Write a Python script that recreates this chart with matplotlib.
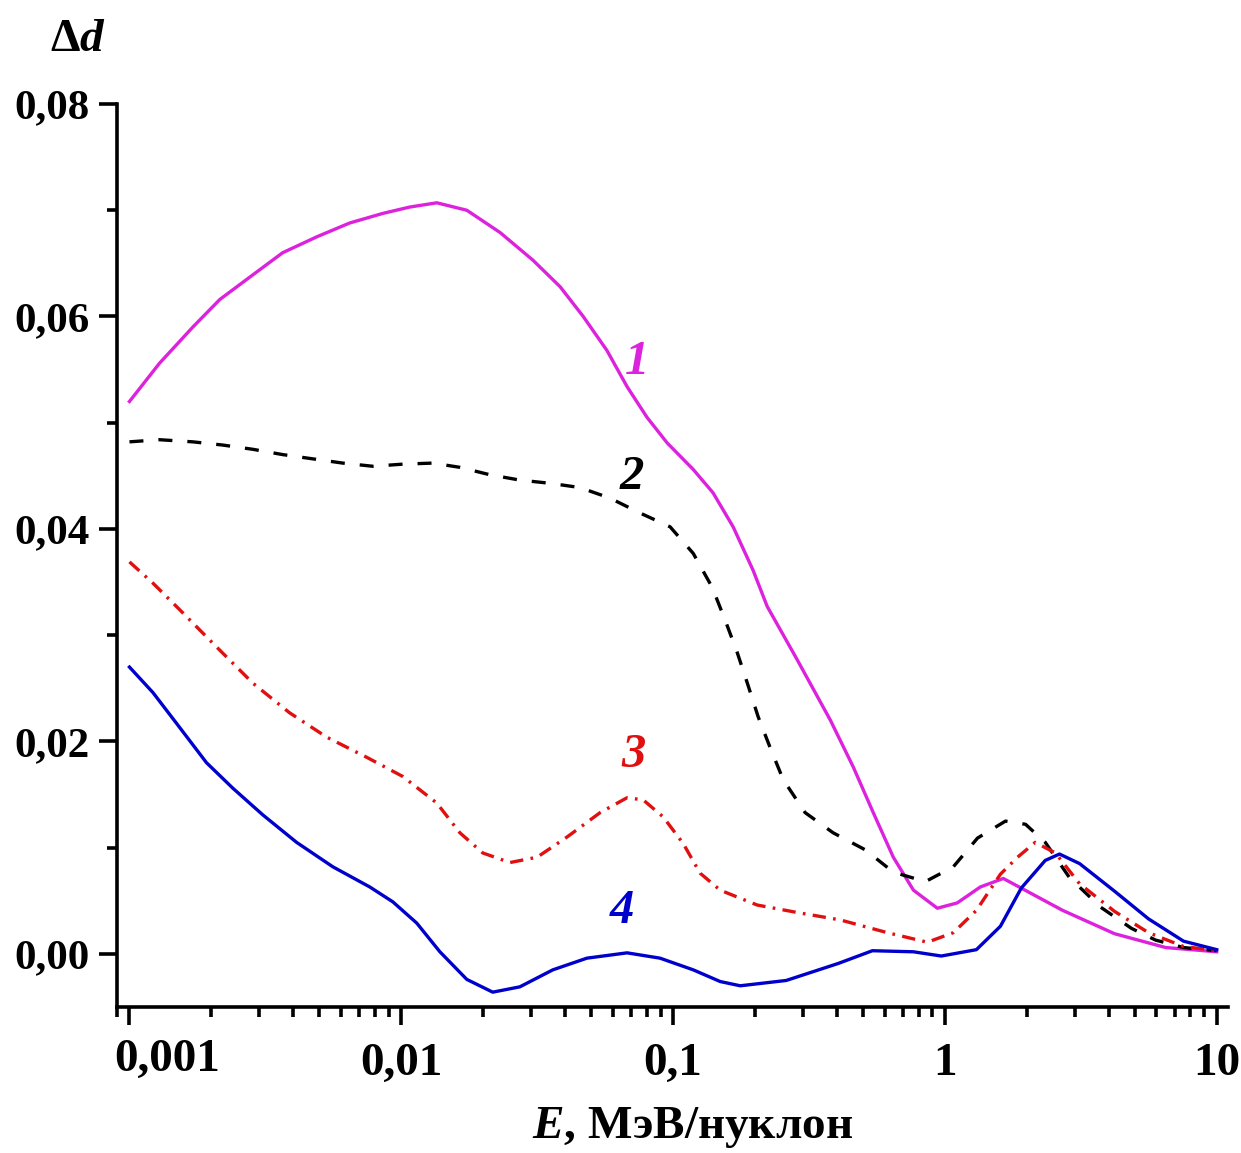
import matplotlib
matplotlib.use('Agg')
import matplotlib.pyplot as plt
from matplotlib.transforms import ScaledTranslation
from matplotlib.ticker import FixedLocator, FixedFormatter, LogLocator, NullFormatter, MultipleLocator

plt.rcParams['font.family'] = 'Liberation Serif'
plt.rcParams['font.weight'] = 'bold'
plt.rcParams['mathtext.fontset'] = 'custom'
plt.rcParams['mathtext.it'] = 'Liberation Serif:italic:bold'
plt.rcParams['mathtext.rm'] = 'Liberation Serif:bold'

# curve 1 (solid magenta)
e1 = [0.001, 0.00129, 0.00171, 0.00215, 0.00277, 0.00366, 0.00489, 0.00646, 0.00855, 0.01074,
      0.01351, 0.01742, 0.0231, 0.0305, 0.0384, 0.0467, 0.0571, 0.0677, 0.0802, 0.0951,
      0.1186, 0.1403, 0.1663, 0.197, 0.222, 0.286, 0.379, 0.460, 0.545, 0.646,
      0.766, 0.938, 1.11, 1.35, 1.64, 2.71, 4.21, 6.49, 10.0]
d1 = [0.0520, 0.0556, 0.0590, 0.0616, 0.0637, 0.0660, 0.0675, 0.0688, 0.0697, 0.0703,
      0.0707, 0.0700, 0.0679, 0.0653, 0.0628, 0.0600, 0.0568, 0.0534, 0.0505, 0.0481,
      0.0456, 0.0434, 0.0402, 0.0361, 0.0327, 0.0277, 0.0220, 0.0176, 0.0133, 0.0091,
      0.0060, 0.0043, 0.0048, 0.0063, 0.0071, 0.0041, 0.0019, 0.0006, 0.0002]

# curve 2 (black dashed)
e2 = [0.001, 0.00129, 0.00171, 0.00220, 0.00284, 0.00366, 0.00472, 0.00609, 0.00786, 0.01013,
      0.01306, 0.01643, 0.0212, 0.0273, 0.0352, 0.0454, 0.0586, 0.0756, 0.0975, 0.1186,
      0.1393, 0.1555, 0.172, 0.1875, 0.2057, 0.2277, 0.2542, 0.306, 0.388, 0.509,
      0.646, 0.847, 1.074, 1.318, 1.67, 1.98, 2.34, 2.87, 3.74, 4.86,
      5.96, 7.55, 10.0]
d2 = [0.0482, 0.0484, 0.0482, 0.0479, 0.0475, 0.0470, 0.0466, 0.0462, 0.0459, 0.0461,
      0.0462, 0.0458, 0.0451, 0.0446, 0.0443, 0.0439, 0.0429, 0.0415, 0.0402, 0.0377,
      0.0345, 0.0314, 0.0284, 0.0255, 0.0223, 0.0194, 0.0164, 0.0133, 0.0114, 0.0098,
      0.0077, 0.0068, 0.0082, 0.0109, 0.0125, 0.0122, 0.0105, 0.0072, 0.0044, 0.0024,
      0.0013, 0.0006, 0.0003]

# curve 3 (red dash-dot)
e3 = [0.001, 0.00122, 0.00153, 0.00209, 0.00284, 0.00388, 0.00532, 0.00747, 0.01013, 0.01351,
      0.01643, 0.01995, 0.0251, 0.0316, 0.0407, 0.0539, 0.0677, 0.0776, 0.0919, 0.1089,
      0.1257, 0.149, 0.204, 0.286, 0.412, 0.614, 0.862, 1.074, 1.306, 1.60,
      1.85, 2.15, 2.55, 3.13, 4.21, 5.61, 7.55, 10.0]
d3 = [0.0369, 0.0349, 0.0324, 0.0289, 0.0255, 0.0227, 0.0204, 0.0185, 0.0167, 0.0142,
      0.0114, 0.0095, 0.0086, 0.0091, 0.0110, 0.0133, 0.0147, 0.0145, 0.0129, 0.0104,
      0.0076, 0.0060, 0.0046, 0.0039, 0.0032, 0.0020, 0.0011, 0.0020, 0.0041, 0.0075,
      0.0091, 0.0105, 0.0095, 0.0066, 0.0040, 0.0020, 0.0007, 0.0003]

# curve 4 (solid blue)
e4 = [0.001, 0.00122, 0.00149, 0.00192, 0.00240, 0.00309, 0.00412, 0.00560, 0.00766, 0.00931,
      0.0114, 0.01387, 0.01742, 0.0217, 0.0273, 0.0361, 0.0482, 0.0677, 0.0895, 0.1186,
      0.149, 0.1766, 0.2607, 0.405, 0.541, 0.766, 0.970, 1.306, 1.60, 1.91,
      2.34, 2.64, 3.13, 4.21, 5.61, 7.55, 10.0]
d4 = [0.0270, 0.0246, 0.0217, 0.0180, 0.0156, 0.0131, 0.0105, 0.0082, 0.0063, 0.0049,
      0.0029, 0.0002, -0.0024, -0.0036, -0.0031, -0.0015, -0.0004, 0.0001, -0.0004, -0.0015,
      -0.0026, -0.0030, -0.0025, -0.0009, 0.0003, 0.0002, -0.0002, 0.0004, 0.0026, 0.0062,
      0.0088, 0.0094, 0.0085, 0.0059, 0.0033, 0.0012, 0.0004]

xticks = [0.001, 0.01, 0.1, 1, 10]
xlabels = ['0,001', '0,01', '0,1', '1', '10']
yticks = [0.0, 0.02, 0.04, 0.06, 0.08]
ylabels = ['0,00', '0,02', '0,04', '0,06', '0,08']

fig = plt.figure(figsize=(12.41, 11.53), dpi=100)
ax = fig.add_axes([0.0943, 0.1266, 0.8952, 0.7832])

lw = 2.4
kw = dict(lw=lw, solid_joinstyle='round', dash_joinstyle='round')
ax.plot(e1, d1, color='#dd22dd', **kw)
ax.plot(e2, d2, color='black', dashes=(4.2, 4.5), **kw)
ax.plot(e3, d3, color='#e01010', dashes=(4.0, 2.2, 0.8, 2.2), **kw)
ax.plot(e4, d4, color='#0000cc', **kw)

ax.set_xscale('log')
ax.set_xlim(0.0009, 11)
ax.set_ylim(-0.005, 0.08)

ax.xaxis.set_major_locator(FixedLocator(xticks))
ax.xaxis.set_major_formatter(FixedFormatter(xlabels))
ax.xaxis.set_minor_locator(LogLocator(base=10, subs=range(2, 10)))
ax.xaxis.set_minor_formatter(NullFormatter())
ax.yaxis.set_major_locator(FixedLocator(yticks))
ax.yaxis.set_major_formatter(FixedFormatter(ylabels))
ax.yaxis.set_minor_locator(MultipleLocator(0.01))

for s in ['top', 'right']:
    ax.spines[s].set_visible(False)
for s in ['left', 'bottom']:
    ax.spines[s].set_linewidth(2.6)

ax.tick_params(axis='both', which='major', direction='out', width=2.6, length=13)
ax.tick_params(axis='both', which='minor', direction='out', width=2.6, length=7)
ax.tick_params(axis='y', which='major', labelsize=31, pad=7)
ax.tick_params(axis='x', which='major', labelsize=34, pad=13)

# the first x label sits a little to the right of its tick
lab0 = ax.xaxis.get_major_ticks()[0].label1
lab0.set_transform(lab0.get_transform() + ScaledTranslation(0.38, 0.04, fig.dpi_scale_trans))

# curve numbers
tkw = dict(fontsize=35, fontweight='bold', fontstyle='italic', ha='center', va='center')
ax.text(0.0737, 0.0557, '1', color='#dd22dd', **tkw)
ax.text(0.0706, 0.0449, '2', color='black', **tkw)
ax.text(0.0713, 0.0187, '3', color='#e01010', **tkw)
ax.text(0.0649, 0.0040, '4', color='#0000cc', **tkw)

fig.text(0.063, 0.965, 'Δ$d$', fontsize=34, ha='center', va='center')
fig.text(0.558, 0.022, '$E$, МэВ/нуклон', fontsize=34, ha='center', va='center')

fig.savefig('out.png', dpi=100)
